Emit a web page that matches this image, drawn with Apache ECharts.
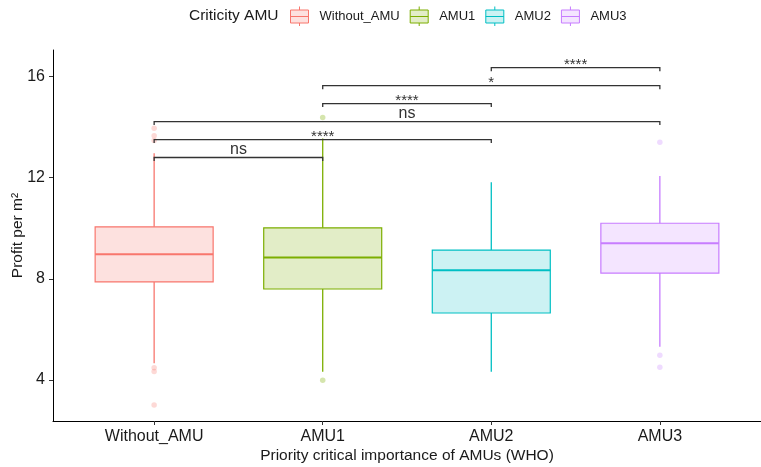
<!DOCTYPE html>
<html>
<head>
<meta charset="utf-8">
<script src="https://cdn.jsdelivr.net/npm/echarts@6/dist/echarts.min.js"></script>
<style>html,body{margin:0;padding:0;background:#fff;}#c{width:761px;height:467px;}</style>
</head>
<body>
<div id="c"></div>
<script>
// ---- data ----
const categories = ['Without_AMU', 'AMU1', 'AMU2', 'AMU3'];
const boxMin    = [4.66, 4.33, 4.33, 5.32];
const boxQ1     = [7.88, 7.60, 6.65, 8.23];
const boxMedian = [8.97, 8.85, 8.34, 9.41];
const boxQ3     = [10.06, 10.02, 9.14, 10.20];
const boxMax    = [12.97, 13.55, 11.82, 12.07];
const outliers  = [[13.96, 13.66, 13.47, 4.49, 4.34, 3.01], [14.38, 3.99], [], [13.40, 4.98, 4.51]];
const cmpFrom   = ['Without_AMU', 'Without_AMU', 'Without_AMU', 'AMU1', 'AMU1', 'AMU2'];
const cmpTo     = ['AMU1', 'AMU2', 'AMU3', 'AMU2', 'AMU3', 'AMU3'];
const cmpY      = [12.8, 13.51, 14.22, 14.93, 15.64, 16.35];
const cmpLabel  = ['ns', '****', 'ns', '****', '*', '****'];
const yTicks    = [4, 8, 12, 16];

// ---- style ----
const FONT = "'Liberation Sans', Arial, sans-serif";
const lineColors = ['#F8766D', '#7CAE00', '#00BFC4', '#C77CFF'];
const fillColors = ['rgba(248,118,109,0.22)', 'rgba(124,174,0,0.22)', 'rgba(0,191,196,0.2)', 'rgba(199,124,255,0.2)'];
const pointColors = ['rgba(248,118,109,0.35)', 'rgba(124,174,0,0.4)', 'rgba(0,191,196,0.35)', 'rgba(199,124,255,0.35)'];
const keyPath = 'path://M9,0L9,3.5M0,3.5L18,3.5L18,16.5L0,16.5ZM0,10L18,10M9,16.5L9,19.5';

const catPos = c => categories.indexOf(c) + 1;

const series = [];
categories.forEach((c, i) => {
  series.push({
    type: 'custom',
    name: c,
    itemStyle: { color: lineColors[i] },
    data: [[i + 1, boxMin[i], boxQ1[i], boxMedian[i], boxQ3[i], boxMax[i]]],
    encode: { x: 0, y: [1, 2, 3, 4, 5] },
    z: 2,
    renderItem: function (params, api) {
      const x = api.value(0);
      const w = api.size([0.7, 0])[0];
      const pMin = api.coord([x, api.value(1)]);
      const pQ1 = api.coord([x, api.value(2)]);
      const pMed = api.coord([x, api.value(3)]);
      const pQ3 = api.coord([x, api.value(4)]);
      const pMax = api.coord([x, api.value(5)]);
      const cx = pMed[0];
      return {
        type: 'group',
        children: [
          { type: 'line', shape: { x1: cx, y1: pQ3[1], x2: cx, y2: pMax[1] }, style: { stroke: lineColors[i], lineWidth: 1.3 } },
          { type: 'line', shape: { x1: cx, y1: pQ1[1], x2: cx, y2: pMin[1] }, style: { stroke: lineColors[i], lineWidth: 1.3 } },
          { type: 'rect', shape: { x: cx - w / 2, y: pQ3[1], width: w, height: pQ1[1] - pQ3[1] }, style: { fill: fillColors[i], stroke: lineColors[i], lineWidth: 1.2, opacity: 1 } },
          { type: 'line', shape: { x1: cx - w / 2, y1: pMed[1], x2: cx + w / 2, y2: pMed[1] }, style: { stroke: lineColors[i], lineWidth: 2 } }
        ]
      };
    }
  });
  series.push({
    type: 'scatter',
    name: c,
    symbol: 'circle',
    symbolSize: 5.5,
    z: 1,
    itemStyle: { color: pointColors[i] },
    data: outliers[i].map(v => [i + 1, v])
  });
});

series.push({
  type: 'custom',
  name: 'comparisons',
  z: 5,
  data: cmpY.map((y, k) => [catPos(cmpFrom[k]), catPos(cmpTo[k]), y]),
  encode: { x: [0, 1], y: 2 },
  renderItem: function (params, api) {
    const k = params.dataIndex;
    const p1 = api.coord([api.value(0), api.value(2)]);
    const p2 = api.coord([api.value(1), api.value(2)]);
    const lab = cmpLabel[k];
    const isStar = lab.indexOf('*') >= 0;
    return {
      type: 'group',
      children: [
        { type: 'polyline', shape: { points: [[p1[0], p1[1] + 3.5], [p1[0], p1[1]], [p2[0], p2[1]], [p2[0], p2[1] + 3.5]] },
          style: { stroke: '#333333', fill: null, lineWidth: 1.3 } },
        { type: 'text', style: { text: lab, x: (p1[0] + p2[0]) / 2, y: p1[1] - (isStar ? 2.5 : 8),
          align: 'center', verticalAlign: 'middle', fontSize: isStar ? 15 : 16, fontFamily: FONT, fill: '#333333' } }
      ]
    };
  }
});

const chart = echarts.init(document.getElementById('c'), null, { renderer: 'canvas' });
chart.setOption({
  animation: false,
  backgroundColor: '#ffffff',
  title: {
    text: 'Criticity AMU', left: 189, top: 8, padding: 0,
    textStyle: { fontSize: 15.5, fontWeight: 'normal', color: '#1a1a1a', fontFamily: FONT }
  },
  legend: {
    left: 290, top: 6, padding: 0,
    itemWidth: 18, itemHeight: 19.5, itemGap: 10,
    selectedMode: false,
    textStyle: { fontSize: 13, color: '#1a1a1a', fontFamily: FONT, padding: [0, 0, 0, 6] },
    data: categories.map((c, i) => ({
      name: c, icon: keyPath,
      itemStyle: { color: fillColors[i], borderColor: lineColors[i], borderWidth: 1 }
    }))
  },
  grid: { left: 53, right: 0, top: 50, bottom: 46, containLabel: false, outerBoundsMode: 'none' },
  xAxis: {
    type: 'value', min: 0.4, max: 4.6,
    name: 'Priority critical importance of AMUs (WHO)',
    nameLocation: 'middle', nameGap: 27, nameMoveOverlap: false,
    nameTextStyle: { fontSize: 15.5, color: '#1a1a1a', fontFamily: FONT },
    axisLine: { show: true, lineStyle: { color: '#000', width: 1 } },
    axisTick: { show: true, length: 4, customValues: [1, 2, 3, 4], lineStyle: { color: '#333', width: 1 } },
    axisLabel: { customValues: [1, 2, 3, 4], margin: 8, fontSize: 16, color: '#1a1a1a', fontFamily: FONT,
      formatter: v => categories[Math.round(v) - 1] || '' },
    splitLine: { show: false }
  },
  yAxis: {
    type: 'value', min: 2.38, max: 17.05,
    name: 'Profit per m²',
    nameLocation: 'middle', nameGap: 27, nameMoveOverlap: false,
    nameTextStyle: { fontSize: 15.5, color: '#1a1a1a', fontFamily: FONT },
    axisLine: { show: true, lineStyle: { color: '#000', width: 1 } },
    axisTick: { show: true, length: 4, customValues: yTicks, lineStyle: { color: '#333', width: 1 } },
    axisLabel: { customValues: yTicks, margin: 8, fontSize: 16, color: '#1a1a1a', fontFamily: FONT },
    splitLine: { show: false }
  },
  series: series
});
</script>
</body>
</html>
